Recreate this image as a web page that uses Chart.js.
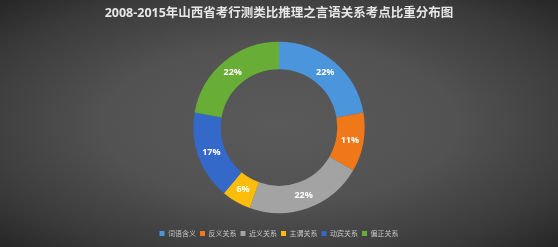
<!DOCTYPE html>
<html>
<head>
<meta charset="utf-8">
<script src="https://cdn.jsdelivr.net/npm/chart.js@4"></script>
<style>
    html, body { margin: 0; padding: 0; }
    body {
        width: 558px; height: 247px; overflow: hidden;
        background: radial-gradient(ellipse at center, #5a5a5a 0%, #525252 45%, #3a3a3a 80%, #262626 100%);
    }
    #wrap { position: relative; width: 558px; height: 247px; }
</style>
</head>
<body>
<div id="wrap"><canvas id="kaodian-chart"></canvas></div>
<script>
var tieuDe = '2008-2015年山西省考行测类比推理之言语关系考点比重分布图';
var loai = ['词语含义', '反义关系', '近义关系', '主谓关系', '动宾关系', '偏正关系'];
var soCau = [4, 2, 4, 1, 3, 4];
var mau = ['#4a95dc', '#f07819', '#a3a3a3', '#fdbd0a', '#3468c9', '#68ad35'];

// ve nhan phan tram len giua moi vong
var nhanPhanTram = {
    id: 'nhanPhanTram',
    afterDatasetsDraw: function(chart) {
        var ctx = chart.ctx;
        var meta = chart.getDatasetMeta(0);
        var tong = soCau.reduce(function(a, b) { return a + b; }, 0);
        ctx.save();
        ctx.font = 'bold 9px "Open Sans", sans-serif';
        ctx.fillStyle = '#ffffff';
        ctx.textAlign = 'center';
        ctx.textBaseline = 'middle';
        meta.data.forEach(function(arc, i) {
            var p = arc.getCenterPoint();
            ctx.fillText(Math.round(soCau[i] / tong * 100) + '%', p.x, p.y);
        });
        ctx.restore();
    }
};

var ctx = document.getElementById('kaodian-chart');
var bieuDo = new Chart(ctx, {
    type: 'doughnut',
    data: {
        labels: loai,
        datasets: [{
            data: soCau,
            backgroundColor: mau,
            borderWidth: 0
        }]
    },
    options: {
        responsive: true,
        maintainAspectRatio: false,
        animation: false,
        cutout: '68%',
        radius: '87%',
        layout: { padding: { top: 1, bottom: 0 } },
        plugins: {
            title: {
                display: true,
                text: tieuDe,
                color: '#e6e6e6',
                font: { size: 12.5, weight: 'bold', family: '"Open Sans", "Noto Sans CJK SC", sans-serif' },
                padding: { top: 5, bottom: 8 }
            },
            legend: {
                position: 'bottom',
                labels: {
                    color: '#c8c8c8',
                    boxWidth: 5,
                    boxHeight: 5,
                    padding: 4,
                    font: { size: 7, family: '"Noto Sans CJK SC", sans-serif' }
                }
            },
            tooltip: { enabled: false }
        }
    },
    plugins: [nhanPhanTram]
});
</script>
</body>
</html>
